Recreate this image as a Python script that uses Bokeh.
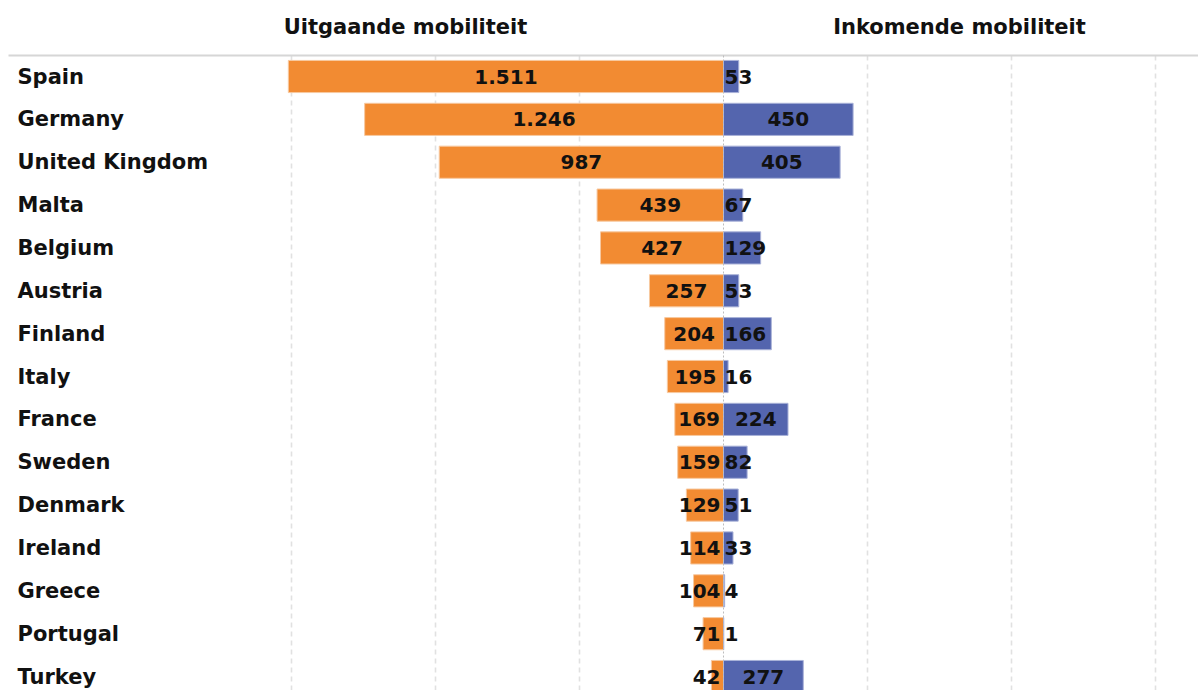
from bokeh.plotting import figure
from bokeh.models import Range1d
from bokeh.core.properties import value
from bokeh.embed import file_html
from bokeh.resources import INLINE

countries = ["Spain", "Germany", "United Kingdom", "Malta", "Belgium", "Austria",
             "Finland", "Italy", "France", "Sweden", "Denmark", "Ireland",
             "Greece", "Portugal", "Turkey"]
outgoing = [1511, 1246, 987, 439, 427, 257, 204, 195, 169, 159, 129, 114, 104, 71, 42]
incoming = [53, 450, 405, 67, 129, 53, 166, 16, 224, 82, 51, 33, 4, 1, 277]
grid_ticks = [-1500, -1000, -500, 500, 1000, 1500]
title_left = "Uitgaande mobiliteit"
title_right = "Inkomende mobiliteit"

ORANGE = "#f28b32"
BLUE = "#5465ae"
FONT = value("DejaVu Sans")

W, H = 1198, 690
PX = 0.288          # pixels per unit
ZERO = 723          # canvas x of value 0
ROW0 = 76           # canvas y of first row
ROWH = 42.86        # pixels per row


def px_x(cx):
    return (cx - ZERO) / PX


def px_y(cy):
    return (cy - ROW0) / ROWH


p = figure(width=W, height=H, output_backend="svg", toolbar_location=None,
           x_range=Range1d(px_x(0), px_x(W)),
           y_range=Range1d(px_y(H), px_y(0)),
           min_border=0)
p.axis.visible = False
p.grid.visible = False
p.outline_line_color = None
p.background_fill_color = "white"
p.border_fill_color = "white"

idx = list(range(len(countries)))
y_top = px_y(55)
y_bot = px_y(H + 10)

# gridlines
p.segment(x0=grid_ticks, x1=grid_ticks, y0=[y_top] * len(grid_ticks), y1=[y_bot] * len(grid_ticks),
          line_color="#e1e1e1", line_width=1.6, line_dash="5 4")

# header line
p.segment(x0=[px_x(8)], x1=[px_x(W + 5)], y0=[y_top], y1=[y_top],
          line_color="#d6d6d6", line_width=2)

# bars
p.hbar(y=idx, left=[-v for v in outgoing], right=0, height=0.75,
       fill_color=ORANGE, line_color="#f7c9a0", line_width=1)
p.hbar(y=idx, left=0, right=incoming, height=0.75,
       fill_color=BLUE, line_color="#a9b2d8", line_width=1)

# center line
p.segment(x0=[0], x1=[0], y0=[y_top], y1=[y_bot], line_color="#bdbdbd", line_width=1, line_dash="2 2")


def fmt(v):
    return f"{v:,}".replace(",", ".")


def est_w(s):
    return sum(6 if ch == "." else 14 for ch in s)


groups = {"lc": ([], [], []), "le": ([], [], []), "rc": ([], [], []), "re": ([], [], [])}
for i, (o, n) in enumerate(zip(outgoing, incoming)):
    so, sn = fmt(o), fmt(n)
    if o * PX >= est_w(so) + 6:
        g = groups["lc"]; g[0].append(-o / 2)
    else:
        g = groups["le"]; g[0].append(-3 / PX)
    g[1].append(i); g[2].append(so)
    if n * PX >= est_w(sn) + 6:
        g = groups["rc"]; g[0].append(n / 2)
    else:
        g = groups["re"]; g[0].append(1 / PX)
    g[1].append(i); g[2].append(sn)

aligns = {"lc": "center", "le": "right", "rc": "center", "re": "left"}
for k, (xs, ys, ts) in groups.items():
    if not xs:
        continue
    p.text(x=xs, y=ys, text=ts, text_align=aligns[k], text_baseline="middle",
           text_font=FONT, text_font_style="bold", text_font_size="20px", text_color="#111111")

# country labels
p.text(x=[px_x(17)] * len(countries), y=idx, text=countries, text_align="left",
       text_baseline="middle", text_font=FONT, text_font_style="bold",
       text_font_size="21px", text_color="#111111")

# pane titles
p.text(x=[px_x(405), px_x(959)], y=[px_y(26)] * 2, text=[title_left, title_right],
       text_align="center", text_baseline="middle", text_font=FONT,
       text_font_style="bold", text_font_size="21px", text_color="#111111")

open("out.html", "w").write(file_html(p, INLINE))
